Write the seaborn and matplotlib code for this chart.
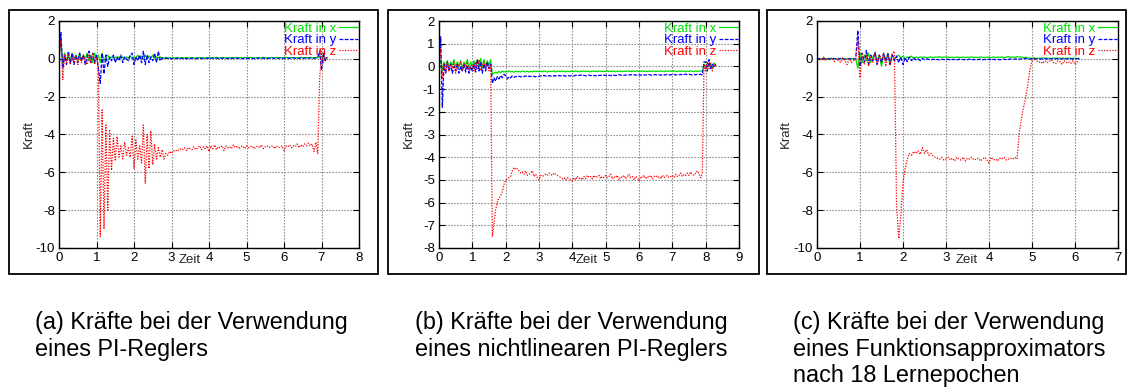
import numpy as np
import pandas as pd
import matplotlib
matplotlib.use("Agg")
import matplotlib.pyplot as plt
import seaborn as sns
from matplotlib.patches import Rectangle

# ---------------- data (sampled every DT seconds, rows = 1 s) ----------------
DT = 0.05
SERIES = ["Kraft in x", "Kraft in y", "Kraft in z"]

# panel (a): PI-Regler
A_X = [0.0, 1.1, -0.3, 0.3, -0.1, 0.2, -0.2, 0.3, 0.0, 0.2, -0.1, 0.3, -0.1, 0.2, 0.0, 0.3, -0.1, 0.2, -0.2, 0.3,
       0.0, 0.2, -0.2, 0.3, -0.1, 0.1, 0.2, 0.0, 0.1, 0.05, 0.1, 0.0, 0.1, 0.05, 0.1, 0.0, 0.1, 0.05, 0.15, 0.0,
       0.1, 0.05, 0.2, 0.0, 0.15, -0.05, 0.2, 0.0, 0.15, 0.05, 0.2, 0.0, 0.1, 0.05, 0.1, 0.06, 0.04, 0.07, 0.05, 0.06,
       0.04, 0.06, 0.05, 0.07, 0.04, 0.05, 0.06, 0.04, 0.07, 0.05, 0.06, 0.05, 0.04, 0.06, 0.05, 0.07, 0.05, 0.06, 0.04, 0.05,
       0.07, 0.05, 0.06, 0.04, 0.08, 0.05, 0.06, 0.05, 0.07, 0.04, 0.06, 0.05, 0.07, 0.06, 0.05, 0.08, 0.05, 0.06, 0.04, 0.07,
       0.05, 0.06, 0.08, 0.05, 0.06, 0.04, 0.07, 0.05, 0.06, 0.08, 0.05, 0.06, 0.04, 0.07, 0.06, 0.05, 0.08, 0.05, 0.06, 0.07,
       0.05, 0.08, 0.06, 0.05, 0.07, 0.06, 0.04, 0.07, 0.06, 0.08, 0.05, 0.06, 0.07, 0.05, 0.08, 0.06, 0.05, 0.07, 0.06, 0.2,
       -0.1, 0.2, 0.0, 0.05]
A_Y = [0.0, 1.4, -0.5, 0.2, -0.3, 0.4, -0.2, 0.3, -0.3, 0.2, -0.2, 0.3, -0.1, 0.2, -0.3, 0.1, 0.4, -0.2, 0.3, -0.2,
       0.2, -0.5, -1.3, 0.3, -0.8, 0.2, -0.4, 0.1, -0.1, 0.2, -0.2, 0.1, -0.1, 0.2, -0.2, 0.1, 0.0, -0.1, 0.2, 0.3,
       -0.3, 0.1, -0.1, 0.2, -0.2, 0.4, -0.3, 0.2, -0.2, 0.1, -0.1, 0.3, -0.2, 0.4, -0.1, 0.05, 0.0, 0.04, 0.02, 0.05,
       0.0, 0.03, 0.01, 0.04, 0.0, 0.03, 0.02, 0.05, 0.0, 0.03, 0.01, 0.04, 0.02, 0.0, 0.03, 0.05, 0.01, 0.03, 0.02, 0.04,
       0.01, 0.03, 0.05, 0.02, 0.04, 0.01, 0.03, 0.02, 0.05, 0.03, 0.01, 0.04, 0.02, 0.03, 0.05, 0.02, 0.04, 0.03, 0.01, 0.04,
       0.03, 0.02, 0.05, 0.03, 0.01, 0.04, 0.03, 0.05, 0.02, 0.04, 0.03, 0.01, 0.04, 0.03, 0.05, 0.02, 0.04, 0.03, 0.05, 0.02,
       0.04, 0.03, 0.05, 0.02, 0.04, 0.06, 0.03, 0.04, 0.02, 0.05, 0.03, 0.04, 0.06, 0.03, 0.05, 0.04, 0.02, 0.05, 0.1, 0.4,
       -0.6, 0.3, -0.1, 0.1]
A_Z = [0.0, 1.0, -1.1, 0.2, -0.2, 0.3, -0.3, 0.1, -0.2, 0.2, -0.3, 0.1, -0.2, 0.2, -0.1, -0.3, 0.2, -0.2, 0.3, -0.3,
       0.1, -0.4, -9.4, -2.7, -9.0, -3.5, -8.0, -3.8, -5.9, -4.2, -5.4, -4.1, -5.2, -4.6, -5.3, -4.4, -5.1, -4.7, -5.2, -4.1,
       -5.8, -4.3, -5.3, -4.6, -5.5, -3.5, -6.6, -4.0, -5.8, -3.8, -5.6, -4.5, -5.3, -4.7, -5.2, -4.8, -5.3, -5.0, -5.1, -4.9,
       -5.0, -4.85, -4.9, -4.8, -4.85, -4.75, -4.8, -4.7, -4.85, -4.7, -4.75, -4.8, -4.65, -4.8, -4.7, -4.6, -4.8, -4.65, -4.75, -4.6,
       -4.9, -4.6, -4.75, -4.55, -4.8, -4.65, -4.7, -4.6, -4.85, -4.6, -4.7, -4.65, -4.75, -4.55, -4.7, -4.6, -4.75, -4.65, -4.6, -4.75,
       -4.6, -4.7, -4.65, -4.6, -4.75, -4.65, -4.6, -4.7, -4.55, -4.75, -4.65, -4.6, -4.7, -4.65, -4.6, -4.75, -4.6, -4.7, -4.65, -4.6,
       -4.85, -4.6, -4.65, -4.55, -4.7, -4.6, -4.65, -4.5, -4.7, -4.55, -4.65, -4.5, -4.6, -4.45, -4.6, -4.5, -4.9, -4.4, -5.0, -1.1,
       0.4, -0.2, 0.1, 0.0]

# panel (b): nichtlinearer PI-Regler
B_X = [0.0, 0.3, -0.2, 0.2, 0.0, 0.25, -0.1, 0.2, 0.05, 0.3, -0.05, 0.2, 0.0, 0.25, -0.1, 0.2, 0.05, 0.3, -0.1, 0.2,
       0.0, 0.25, -0.05, 0.3, 0.0, 0.35, -0.05, 0.3, 0.0, 0.25, 0.05, 0.3, -0.35, -0.3, -0.25, -0.3, -0.22, -0.28, -0.2, -0.25,
       -0.22, -0.25, -0.2, -0.24, -0.22, -0.26, -0.21, -0.24, -0.22, -0.25, -0.2, -0.23, -0.24, -0.21, -0.25, -0.22, -0.24, -0.2, -0.23, -0.22,
       -0.23, -0.21, -0.24, -0.2, -0.22, -0.25, -0.21, -0.23, -0.22, -0.2, -0.24, -0.22, -0.21, -0.23, -0.2, -0.22, -0.24, -0.21, -0.23, -0.22,
       -0.21, -0.23, -0.2, -0.22, -0.24, -0.21, -0.22, -0.2, -0.23, -0.21, -0.22, -0.24, -0.2, -0.22, -0.21, -0.23, -0.2, -0.22, -0.21, -0.23,
       -0.22, -0.2, -0.23, -0.21, -0.22, -0.2, -0.24, -0.21, -0.22, -0.2, -0.23, -0.21, -0.22, -0.2, -0.21, -0.23, -0.2, -0.22, -0.21, -0.2,
       -0.23, -0.21, -0.2, -0.22, -0.21, -0.23, -0.2, -0.22, -0.21, -0.2, -0.23, -0.21, -0.22, -0.2, -0.21, -0.23, -0.2, -0.22, -0.21, -0.2,
       -0.22, -0.2, -0.21, -0.23, -0.2, -0.22, -0.21, -0.2, -0.23, -0.21, -0.22, -0.2, -0.21, -0.23, -0.2, -0.22, -0.21, -0.2, -0.22, 0.1,
       -0.1, 0.2, 0.0, 0.1, -0.1, 0.15, 0.05]
B_Y = [0.0, 1.3, -1.8, 0.1, -0.3, 0.2, -0.2, 0.1, -0.3, 0.0, -0.2, 0.1, -0.3, 0.0, -0.2, 0.1, -0.25, 0.05, -0.3, 0.0,
       -0.2, 0.1, -0.25, 0.3, -0.2, 0.2, -0.3, 0.1, -0.2, 0.2, -0.1, 0.1, -0.75, -0.5, -0.65, -0.45, -0.55, -0.4, -0.5, -0.35,
       -0.4, -0.55, -0.45, -0.5, -0.42, -0.48, -0.44, -0.47, -0.43, -0.46, -0.44, -0.45, -0.42, -0.46, -0.43, -0.45, -0.42, -0.44, -0.46, -0.43,
       -0.44, -0.41, -0.43, -0.4, -0.42, -0.44, -0.41, -0.43, -0.4, -0.42, -0.41, -0.43, -0.4, -0.42, -0.39, -0.41, -0.43, -0.4, -0.42, -0.41,
       -0.4, -0.42, -0.39, -0.41, -0.4, -0.38, -0.41, -0.39, -0.42, -0.4, -0.38, -0.41, -0.39, -0.4, -0.42, -0.38, -0.4, -0.39, -0.41, -0.38,
       -0.4, -0.38, -0.39, -0.41, -0.37, -0.39, -0.4, -0.38, -0.36, -0.39, -0.38, -0.4, -0.37, -0.39, -0.38, -0.36, -0.39, -0.37, -0.38, -0.4,
       -0.37, -0.39, -0.36, -0.38, -0.37, -0.39, -0.36, -0.38, -0.4, -0.37, -0.36, -0.38, -0.37, -0.39, -0.36, -0.38, -0.37, -0.35, -0.38, -0.36,
       -0.37, -0.35, -0.38, -0.36, -0.37, -0.35, -0.38, -0.36, -0.34, -0.37, -0.35, -0.36, -0.38, -0.35, -0.37, -0.34, -0.36, -0.35, -0.37, 0.2,
       0.2, -0.2, 0.3, -0.1, 0.1, -0.05, 0.1]
B_Z = [0.0, 0.8, -0.5, 0.1, -0.3, 0.2, -0.2, 0.1, -0.1, 0.2, -0.3, 0.1, 0.0, 0.2, -0.2, 0.1, -0.1, 0.2, -0.2, 0.0,
       0.1, -0.2, 0.2, -0.1, 0.3, -0.2, 0.1, 0.2, -0.1, 0.1, -0.2, 0.1, -7.5, -6.9, -6.3, -6.0, -5.8, -5.7, -5.5, -5.2,
       -5.0, -4.95, -4.9, -4.85, -4.6, -4.45, -4.55, -4.5, -4.6, -4.7, -4.65, -4.75, -4.6, -4.8, -4.75, -4.7, -4.6, -4.85, -4.75, -4.9,
       -5.0, -4.8, -4.85, -4.8, -4.75, -4.8, -4.7, -4.75, -4.8, -4.7, -4.75, -4.8, -4.85, -4.9, -4.95, -4.9, -5.0, -4.9, -4.95, -5.0,
       -5.05, -4.9, -5.0, -4.85, -4.95, -4.9, -5.0, -4.85, -4.95, -4.8, -4.9, -4.85, -4.95, -4.8, -4.9, -4.85, -4.8, -4.95, -4.85, -4.9,
       -4.8, -4.9, -4.85, -4.75, -4.95, -4.85, -4.9, -4.8, -5.0, -4.85, -4.9, -4.8, -4.95, -4.85, -4.75, -4.9, -4.85, -5.0, -4.85, -4.9,
       -5.05, -4.85, -4.9, -4.8, -4.95, -4.85, -4.9, -4.8, -4.95, -4.85, -4.8, -4.9, -4.85, -4.95, -4.8, -4.9, -4.85, -4.8, -4.9, -4.85,
       -4.8, -4.9, -4.75, -4.85, -4.8, -4.7, -4.85, -4.75, -4.8, -4.7, -4.8, -4.65, -4.75, -4.8, -4.7, -4.6, -4.75, -4.9, -4.7, 0.1,
       -0.2, 0.2, -0.1, 0.15, -0.2, 0.1, 0.0]

# panel (c): Funktionsapproximator nach 18 Lernepochen
C_X = [0.0, 0.02, -0.02, 0.03, 0.0, 0.02, -0.03, 0.01, 0.03, -0.01, 0.02, 0.0, 0.03, -0.02, 0.01, 0.02, -0.01, 0.03, 0.0, -0.5,
       0.3, -0.2, 0.2, -0.1, 0.3, -0.2, 0.1, 0.3, -0.1, 0.2, -0.4, 0.2, -0.1, 0.3, -0.2, 0.2, 0.0, 0.1, 0.2, 0.05,
       0.15, 0.0, 0.1, 0.05, 0.15, 0.0, 0.1, 0.05, 0.1, 0.08, 0.1, 0.05, 0.08, 0.1, 0.06, 0.1, 0.08, 0.12, 0.07, 0.1,
       0.08, 0.1, 0.07, 0.09, 0.06, 0.1, 0.08, 0.07, 0.1, 0.06, 0.09, 0.08, 0.1, 0.07, 0.09, 0.06, 0.1, 0.08, 0.07, 0.09,
       0.08, 0.06, 0.1, 0.07, 0.09, 0.08, 0.1, 0.06, 0.09, 0.12, 0.08, 0.1, 0.07, 0.12, 0.09, 0.1, 0.06, 0.08, 0.05, 0.04,
       0.03, 0.05, 0.02, 0.04, 0.03, 0.05, 0.02, 0.04, 0.03, 0.02, 0.04, 0.03, 0.05, 0.02, 0.04, 0.03, 0.02, 0.04, 0.03, 0.02,
       0.03, 0.02, 0.03]
C_Y = [0.0, 0.01, -0.02, 0.02, -0.01, 0.0, 0.02, -0.02, 0.01, 0.0, -0.01, 0.02, 0.0, -0.02, 0.01, 0.0, 0.02, -0.01, 0.0, 1.5,
       -0.4, 0.3, -0.2, 0.45, -0.3, 0.2, -0.1, 0.35, -0.3, 0.2, -0.2, 0.3, -0.1, 0.25, -0.3, 0.2, -0.1, 0.15, -0.2, 0.1,
       -0.3, 0.05, -0.15, 0.1, -0.1, 0.05, -0.05, 0.0, -0.1, 0.02, -0.05, 0.0, -0.03, -0.06, -0.02, -0.05, -0.03, -0.06, -0.02, -0.04,
       -0.05, -0.02, -0.06, -0.03, -0.04, -0.06, -0.02, -0.05, -0.03, -0.06, -0.04, -0.02, -0.05, -0.03, -0.06, -0.04, -0.02, -0.05, -0.03, -0.04,
       -0.02, -0.05, -0.03, -0.04, -0.02, -0.05, -0.03, -0.02, -0.04, -0.03, -0.01, -0.03, -0.02, 0.0, -0.02, -0.01, 0.0, 0.02, 0.0, -0.02,
       0.02, -0.01, 0.0, 0.01, -0.01, 0.0, 0.02, -0.01, 0.0, 0.01, -0.02, 0.0, 0.01, -0.01, 0.0, 0.02, 0.0, -0.01, 0.01, 0.0,
       -0.01, 0.0, 0.01]
C_Z = [0.05, 0.0, -0.05, 0.1, -0.1, 0.0, -0.05, 0.05, -0.15, 0.0, -0.1, -0.2, 0.05, -0.1, -0.3, 0.0, -0.2, -0.1, 0.0, 1.0,
       -1.0, 0.3, -0.3, 0.2, -0.4, 0.1, -0.2, 0.3, -0.3, 0.2, -0.1, 0.3, -0.4, 0.2, -0.3, 0.3, 0.4, -7.7, -9.5, -8.3,
       -6.5, -5.8, -5.3, -5.0, -5.1, -4.9, -5.0, -4.85, -5.05, -4.7, -5.0, -4.8, -5.1, -5.0, -5.15, -5.2, -5.25, -5.3, -5.2, -5.35,
       -5.3, -5.2, -5.35, -5.25, -5.4, -5.2, -5.3, -5.35, -5.2, -5.4, -5.25, -5.3, -5.2, -5.35, -5.3, -5.25, -5.4, -5.3, -5.2, -5.35,
       -5.5, -5.2, -5.35, -5.3, -5.4, -5.25, -5.3, -5.2, -5.35, -5.3, -5.25, -5.3, -5.2, -5.3, -4.0, -3.2, -2.6, -2.1, -1.4, -0.6,
       -0.1, 0.05, -0.1, -0.2, -0.15, -0.25, -0.1, -0.2, -0.15, -0.05, -0.2, -0.25, -0.1, -0.15, -0.3, -0.1, -0.2, -0.15, -0.25, -0.1,
       -0.3, -0.15, -0.2]

CAPTION_A = ["(a) Kräfte bei der Verwendung", "eines PI-Reglers"]
CAPTION_B = ["(b) Kräfte bei der Verwendung", "eines nichtlinearen PI-Reglers"]
CAPTION_C = ["(c) Kräfte bei der Verwendung", "eines Funktionsapproximators", "nach 18 Lernepochen"]

PANELS = [
    dict(x=A_X, y=A_Y, z=A_Z, xmax=8, ymin=-10, ystep=2, zeit=0.437, caption=CAPTION_A),
    dict(x=B_X, y=B_Y, z=B_Z, xmax=9, ymin=-8, ystep=1, zeit=0.492, caption=CAPTION_B),
    dict(x=C_X, y=C_Y, z=C_Z, xmax=7, ymin=-10, ystep=2, zeit=0.497, caption=CAPTION_C),
]

# ---------------- style ----------------
sns.set_theme(style="white")
plt.rcParams["font.family"] = ["Liberation Sans", "DejaVu Sans"]
plt.rcParams["axes.unicode_minus"] = False

W, H = 1130, 388
fig = plt.figure(figsize=(W / 100, H / 100), dpi=100)

palette = {"Kraft in x": "#00e000", "Kraft in y": "#0000ff", "Kraft in z": "#ff0000"}
dashes = {"Kraft in x": "", "Kraft in y": (3, 1.2), "Kraft in z": (1, 1.2)}

# pixel layout: (axes left, axes right), panel border (left, right), caption left
AX_PX = [(59, 359), (439, 739), (817, 1118)]
BOX_PX = [(9, 378), (388, 759), (767, 1126)]
CAP_PX = [35, 415, 793]
AX_TOP, AX_BOT = 21, 248
BOX_TOP, BOX_BOT = 10, 274
CAP_BASE, CAP_STEP = 329, 26.7

for p, (al, ar), (bl, br), cx in zip(PANELS, AX_PX, BOX_PX, CAP_PX):
    fig.add_artist(Rectangle((bl / W, 1 - BOX_BOT / H), (br - bl) / W, (BOX_BOT - BOX_TOP) / H,
                             transform=fig.transFigure, fill=False, lw=1.3, ec="black"))
    ax = fig.add_axes([al / W, 1 - AX_BOT / H, (ar - al) / W, (AX_BOT - AX_TOP) / H])

    frames = []
    for name, vals in zip(SERIES, (p["x"], p["y"], p["z"])):
        frames.append(pd.DataFrame({"Zeit": np.arange(len(vals)) * DT, "Kraft": vals, "s": name}))
    df = pd.concat(frames, ignore_index=True)
    sns.lineplot(data=df, x="Zeit", y="Kraft", hue="s", style="s", hue_order=SERIES, style_order=SERIES,
                 palette=palette, dashes=dashes, estimator=None, sort=False, lw=0.9, ax=ax)

    ax.set_xlim(0, p["xmax"])
    ax.set_ylim(p["ymin"], 2)
    ax.set_xticks(range(0, p["xmax"] + 1))
    ax.set_yticks(np.arange(p["ymin"], 2 + 0.001, p["ystep"]))
    ax.grid(True, color="#7a7a7a", linestyle=(0, (1.2, 1.5)), linewidth=0.8)
    for s in ax.spines.values():
        s.set_color("black")
        s.set_linewidth(1.0)
    ax.tick_params(direction="in", length=4, width=0.8, labelsize=9.5, pad=3,
                   top=True, right=True, bottom=True, left=True, colors="black")

    ax.set_xlabel("Zeit", fontsize=9.5)
    ax.xaxis.label.set_va("center")
    ax.xaxis.set_label_coords(p["zeit"], -0.055)
    ax.set_ylabel("Kraft", fontsize=9.5)
    ax.yaxis.set_label_coords(-0.082, 0.5)

    handles, labels = ax.get_legend_handles_labels()
    ax.get_legend().remove()
    ax.legend(handles, labels, loc="upper right", bbox_to_anchor=(1.0, 1.0), frameon=False,
              fontsize=9.5, markerfirst=False, labelcolor="linecolor", handlelength=1.4,
              handletextpad=0.2, labelspacing=-0.05, borderaxespad=0.1, borderpad=0.0)

    for i, line in enumerate(p["caption"]):
        fig.text(cx / W, 1 - (CAP_BASE + i * CAP_STEP) / H, line, ha="left", va="baseline",
                 fontsize=16.8, color="black")

fig.savefig("out.png", dpi=100)
